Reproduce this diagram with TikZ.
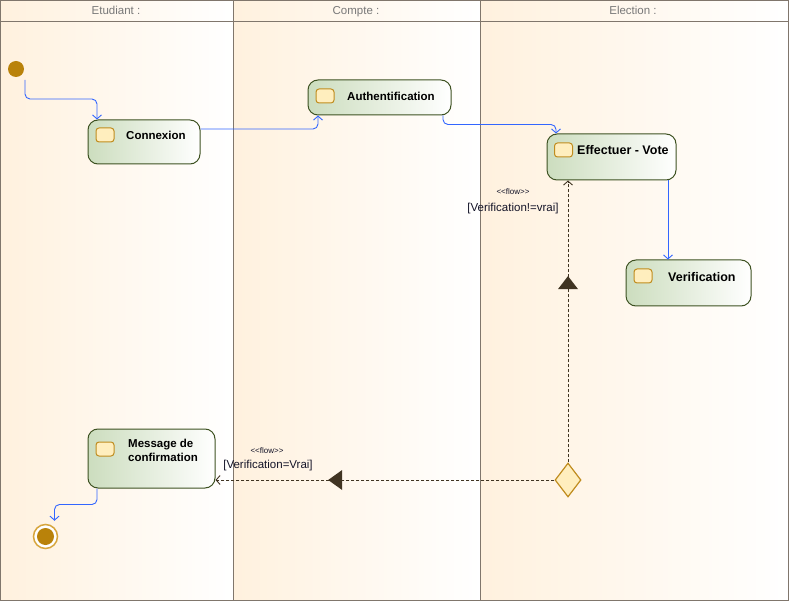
\documentclass[tikz,border=0pt]{standalone}
\usepackage{fontspec}
\setmainfont{Liberation Sans}
\usetikzlibrary{arrows.meta,shapes.geometric}
\definecolor{lane}{RGB}{255,241,222}
\definecolor{boxg}{RGB}{204,221,190}
\definecolor{boxb}{RGB}{62,82,34}
\definecolor{icf}{RGB}{255,238,190}
\definecolor{icb}{RGB}{192,140,30}
\definecolor{gold}{RGB}{185,130,10}
\definecolor{ringc}{RGB}{215,165,60}
\definecolor{bflowc}{RGB}{51,102,255}
\definecolor{dflowc}{RGB}{64,52,34}
\definecolor{framec}{RGB}{128,118,108}
\definecolor{headc}{RGB}{120,120,120}
\definecolor{txtc}{RGB}{20,20,40}
\tikzset{
  actbox/.style={draw=boxb, line width=1pt, rounded corners=10pt, left color=boxg, middle color=boxg!70!white, right color=white, inner sep=0pt},
  icon/.style={draw=icb, fill=icf, line width=1pt, rounded corners=3pt, minimum width=18pt, minimum height=14pt, inner sep=0pt},
  lbl/.style={anchor=west, inner sep=0pt, font=\fontsize{11.5}{14}\selectfont\bfseries, text=black},
  lblb/.style={anchor=west, inner sep=0pt, font=\fontsize{12.5}{15}\selectfont\bfseries, text=black},
  headtxt/.style={text=headc, font=\fontsize{11.5}{13}\selectfont, inner sep=0pt, anchor=base},
  bflow/.style={draw=bflowc, line width=0.9pt, rounded corners=5pt, -{Straight Barb[length=4pt,width=9pt]}},
  dflow/.style={draw=dflowc, line width=0.9pt, dash pattern=on 3pt off 2pt, -{Straight Barb[length=4pt,width=9pt]}},
  stereo/.style={font=\fontsize{8}{9}\selectfont, text=txtc, inner sep=0pt},
  guard/.style={font=\fontsize{11.5}{13}\selectfont, text=txtc, inner sep=0pt}
}
\begin{document}
\begin{tikzpicture}[x=1pt,y=-1pt]
\useasboundingbox (0,0) rectangle (789,601);
% lanes
\shade[left color=lane, right color=white] (1,1) rectangle (233,600);
\shade[left color=lane, right color=white] (233,1) rectangle (480,600);
\shade[left color=lane, right color=white] (480,1) rectangle (788,600);
\draw[framec, line width=1pt] (0.5,0.5) rectangle (788.5,600.5);
\draw[framec, line width=1pt] (233.5,0.5) -- (233.5,600.5);
\draw[framec, line width=1pt] (480.5,0.5) -- (480.5,600.5);
\draw[framec, line width=1pt] (0.5,21.5) -- (788.5,21.5);
\node[headtxt] (h1) at (116,15) {Etudiant :};
\node[headtxt] (h2) at (356,15) {Compte :};
\node[headtxt] (h3) at (633,15) {Election :};

% initial and final
\node[circle, fill=gold, minimum size=16pt, inner sep=0pt] (init) at (16,69) {};
\node[circle, draw=ringc, line width=1.5pt, fill=white, minimum size=24pt, inner sep=0pt] (fin) at (45.5,536.5) {};
\fill[gold] (fin.center) circle (8.5);

% activities
\node[actbox, minimum width=112pt, minimum height=44pt] (con) at (144,142) {};
\node[icon] (coni) at (105,135) {};
\node[lbl] (cont) at (126,135) {Connexion};

\node[actbox, minimum width=143pt, minimum height=35pt] (auth) at (379.5,97.5) {};
\node[icon] (authi) at (325,96) {};
\node[lbl] (autht) at (347,96) {Authentification};

\node[actbox, minimum width=129pt, minimum height=46pt] (eff) at (611.5,157) {};
\node[icon] (effi) at (563.5,150) {};
\node[lblb] (efft) at (577,150) {Effectuer - Vote};

\node[actbox, minimum width=125pt, minimum height=46pt] (ver) at (688.5,283) {};
\node[icon] (veri) at (643,276) {};
\node[lblb] (vert) at (668,277) {Verification};

\node[actbox, minimum width=127pt, minimum height=59pt] (msg) at (151.5,458.5) {};
\node[icon] (msgi) at (105,449) {};
\node[lbl, align=left] (msgt) at (128,450) {Message de\\confirmation};

% decision
\node[diamond, draw=icb, fill=icf, line width=1.2pt, minimum width=26pt, minimum height=34pt, inner sep=0pt] (dec) at (568,480) {};

% control flows
\draw[bflow] ([shift={(9,11)}]init.center) -- ++(0,19) -| ([shift={(-47,0)}]con.north);
\draw[bflow] ([shift={(0,-13)}]con.east) -| ([shift={(-61.5,0)}]auth.south);
\draw[bflow] ([shift={(63.5,0)}]auth.south) -- ++(0,9) -| ([shift={(-55.5,0)}]eff.north);
\draw[bflow] ([shift={(56.5,0)}]eff.south) -- ([shift={(-20.5,0)}]ver.north);
\draw[bflow] ([shift={(-54.5,0)}]msg.south) -- ++(0,16) -| ([shift={(9,-3)}]fin.north);

% object flows from decision
\draw[dflow] (dec.north) -- coordinate[pos=0.636] (t1) (dec.north |- eff.south);
\fill[dflowc] ([shift={(0,-7)}]t1) -- ([shift={(10,6)}]t1) -- ([shift={(-10,6)}]t1) -- cycle;
\draw[dflow] (dec.west) -- coordinate[pos=0.644] (t2) (dec.west -| msg.east);
\fill[dflowc] ([shift={(-8,0)}]t2) -- ([shift={(6,-10)}]t2) -- ([shift={(6,10)}]t2) -- cycle;

% labels
\node[stereo] (s1) at (513,192) {<\kern0pt<flow>\kern0pt>};
\node[guard] (g1) at (513,209) {[Verification!=vrai]};
\node[stereo] (s2) at (267,451) {<\kern0pt<flow>\kern0pt>};
\node[guard] (g2) at (268,466) {[Verification=Vrai]};
\end{tikzpicture}
\end{document}
